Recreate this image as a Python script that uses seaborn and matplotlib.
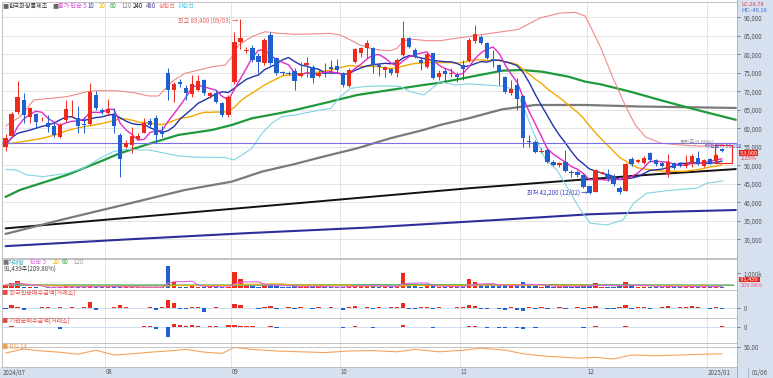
import numpy as np
import pandas as pd
import matplotlib
matplotlib.use("Agg")
import matplotlib.pyplot as plt
import seaborn as sns
from matplotlib.patches import Rectangle

sns.set_theme(style="white")
plt.rcParams['font.family'] = ['Noto Sans CJK KR', 'DejaVu Sans']
plt.rcParams['axes.unicode_minus'] = False

W, H = 773, 378

# ---------------- data ----------------
opens = [55060, 58030, 64500, 67650, 62980, 63870, 62400, 61360, 60640, 57580,
         62260, 64600, 62700, 61200, 61180, 69000, 65000, 64050, 63600, 58210,
         54890, 55500, 57050, 58840, 61900, 62900, 59300, 74840, 70350, 72500,
         70980, 69270, 70300, 73000, 68730, 69630, 66750, 63600, 72600, 83400,
         81000, 81580, 79520, 77540, 85180, 78890, 75290, 75000, 75560, 74210,
         77090, 76640, 74210, 75020, 76460, 76820, 74840, 71420, 77990, 80420,
         81580, 81760, 77000, 75740, 75920, 74840, 79790, 84280, 81130, 78440,
         76460, 80240, 73760, 75560, 74660, 74300, 77090, 78260, 83650, 84550,
         83110, 78710, 77090, 73940, 69630, 71690, 68730, 56500, 56410, 53630,
         54150, 51020, 50120, 51020, 48320, 48320, 47420, 44300, 42860, 47860,
         47770, 46880, 43840, 43120, 51790, 50980, 50720, 53390, 51430, 50710,
         47770, 50720, 50270, 49820, 50270, 52050, 49800, 51600, 51300, 54300]
highs = [58390, 64500, 72780, 69630, 65670, 64230, 63000, 63600, 61800, 61360,
         67650, 67650, 66030, 63150, 72150, 70200, 65500, 68000, 65400, 58660,
         56860, 60280, 58660, 62700, 62800, 63600, 60500, 76190, 72600, 73220,
         71700, 74400, 74400, 73200, 69900, 70350, 67200, 69000, 86080, 89400,
         82000, 82480, 80240, 84280, 86080, 79340, 75500, 75400, 76190, 77990,
         79340, 77090, 75740, 77540, 78440, 78620, 75290, 76190, 81580, 82030,
         83830, 82030, 77500, 76820, 76190, 78890, 89000, 84730, 81580, 79340,
         80240, 80420, 75740, 76190, 76190, 75290, 78440, 84280, 87880, 85180,
         83380, 81130, 77360, 74120, 73040, 73490, 69000, 58210, 56860, 54600,
         54600, 51470, 51020, 54150, 48770, 48770, 47600, 44500, 48930, 48300,
         48930, 47590, 44460, 50720, 52230, 51600, 52500, 53660, 51600, 51000,
         52950, 51000, 50500, 52770, 52950, 53840, 51600, 52000, 53000, 54600]
lows = [53980, 57800, 64000, 61360, 61500, 60000, 62000, 59100, 57760, 57310,
        61800, 63000, 58660, 58840, 60900, 64950, 64000, 63600, 58660, 46970,
        54600, 53270, 56860, 58660, 60000, 56400, 57760, 67650, 67200, 71250,
        67650, 68550, 70000, 69000, 68100, 66750, 63150, 63150, 72000, 81500,
        80200, 77990, 74840, 77090, 77090, 74390, 74500, 74300, 70350, 73940,
        73940, 72140, 73940, 73940, 74840, 75020, 71250, 71250, 77540, 79340,
        78890, 74840, 74000, 73940, 74390, 73940, 79520, 81580, 78890, 75740,
        76190, 73220, 73040, 72600, 73940, 72600, 73040, 77990, 83110, 82750,
        78620, 76640, 71690, 69630, 69000, 64950, 55060, 55060, 53450, 53260,
        50750, 49850, 49670, 48320, 46970, 46970, 43800, 42200, 42680, 47600,
        45800, 44460, 42300, 42950, 49820, 50720, 50270, 50980, 49820, 49500,
        46880, 48930, 49500, 49200, 49550, 50000, 49500, 50400, 51000, 53600]
closes = [57310, 63870, 68370, 63600, 65400, 61800, 62600, 60460, 58210, 60910,
          65130, 64800, 60640, 60900, 69900, 65400, 64500, 65130, 60640, 51650,
          55970, 58030, 57940, 61540, 61000, 58200, 58500, 70350, 71960, 71870,
          69630, 71870, 72870, 69630, 69630, 67200, 63600, 68550, 83380, 84300,
          81200, 78440, 77990, 83830, 77540, 74840, 74840, 74660, 72860, 75020,
          77540, 73490, 74840, 74660, 76010, 75740, 71690, 75740, 81310, 81760,
          82930, 77090, 76500, 76640, 75020, 78440, 84280, 82030, 79340, 77540,
          79970, 73490, 74840, 74660, 75020, 73800, 75920, 83830, 85450, 83110,
          78890, 78260, 75290, 69900, 70530, 67830, 57310, 56400, 53720, 53900,
          51020, 50120, 50750, 48590, 47870, 47420, 44200, 42500, 48660, 48120,
          46700, 44910, 42680, 50270, 50270, 51430, 52050, 51340, 50270, 49820,
          50900, 49380, 49820, 50270, 52500, 50270, 51340, 50700, 52700, 53900]

# moving-average values for the first days (before a full window exists)
ma5_head = [55780, 57300, 60500, 62500]
ma10_head = [55510, 57500, 58660, 59100, 59500, 60000, 60500, 60900, 61400]
ma20_head = [55780, 56000, 56200, 56450, 56700, 57000, 57300, 57700, 58100, 58600,
             59300, 59700, 60100, 60400, 60700, 61000, 61300, 61700, 62100]

# volume (thousand shares)
volume = [200, 330, 510, 110, 80, 80, 50, 60, 80, 110,
          150, 60, 80, 60, 200, 110, 80, 60, 110, 150,
          80, 60, 60, 60, 80, 80, 60, 1510, 450, 110,
          110, 220, 110, 110, 80, 80, 110, 110, 1070, 620,
          220, 150, 110, 260, 300, 150, 80, 70, 150, 120,
          160, 110, 80, 90, 90, 80, 120, 150, 250, 150,
          160, 200, 90, 80, 80, 150, 1050, 300, 150, 110,
          160, 200, 100, 90, 80, 80, 150, 600, 400, 200,
          200, 150, 160, 250, 150, 280, 450, 200, 180, 100,
          150, 110, 80, 200, 110, 100, 200, 180, 350, 120,
          110, 120, 150, 420, 200, 100, 120, 110, 90, 80,
          200, 90, 70, 100, 150, 120, 100, 80, 110, 91]
vol_ma60_x = [0, 30, 60, 90, 121]
vol_ma60_y = [230, 220, 240, 250, 200]
vol_ma120_x = [0, 60, 121]
vol_ma120_y = [190, 200, 220]

foreign = [-1.5, 2.5, 1.2, -2.0, -0.6, -0.6, 0.5, 1.0, -0.6, 0.8,
           -0.6, 0.5, -0.5, 0.6, 6.0, -2.5, -0.6, -0.6, 0.5, 2.8,
           0.8, -0.6, -0.6, -0.6, 0.5, -2.5, 0.8, 8.0, 5.0, -0.8,
           -0.8, 1.0, 0.8, -4.0, -0.6, 0.8, -0.6, -0.6, 3.3, 2.5,
           -0.6, -0.6, -1.0, 0.8, 1.5, -1.0, -0.6, 0.5, -0.8, 0.6,
           -0.6, -1.2, 0.5, -0.6, 1.0, -0.6, -2.5, 0.8, 1.5, -0.6,
           0.8, -1.5, 0.5, -0.6, 0.5, 0.8, 5.0, -1.0, -0.8, 0.6,
           0.8, -1.5, 0.5, -0.6, -0.6, 0.5, 0.8, 3.0, 2.0, -1.0,
           -1.5, -0.6, -1.0, -2.0, 0.8, -2.5, -3.0, 0.8, -1.0, 0.6,
           -1.0, -0.6, 0.5, -1.0, -0.6, 0.6, -1.5, 1.0, 2.0, -0.6,
           -0.8, -1.0, 0.8, 2.5, -0.8, 0.5, 0.8, -0.8, -0.6, 0.5,
           1.5, -0.6, 0.5, 1.0, 1.5, 0.6, -0.6, -1.5, 0.6, -0.8]

institution = [-0.3, 1.5, 0.5, -0.3, -0.3, -0.3, 0.3, -0.3, -0.3, -1.5,
               -0.3, 0.3, -0.3, -0.3, 0.3, -0.3, 0.3, -0.3, -0.3, 0.3,
               -0.3, 0.3, 0.3, 1.5, 1.0, -1.5, -0.3, -10.0, 3.0, 2.0,
               1.5, 2.0, 1.5, -0.3, 1.5, 1.5, 0.3, 2.0, 2.5, 1.5,
               1.5, 1.5, -0.3, 0.3, 1.5, -0.5, 0.3, -0.3, -0.3, 0.3,
               -0.3, 0.3, -0.3, 0.3, 0.3, -0.3, -0.5, 0.3, 1.0, 0.5,
               0.3, -0.5, 0.3, 0.3, -0.3, 0.3, 2.0, 0.3, -0.3, 0.3,
               0.3, -0.5, 0.3, -0.3, 0.3, 0.3, 0.3, 1.5, 1.0, -0.3,
               -0.5, -0.3, -0.5, -1.0, 0.3, -1.0, -1.5, 0.3, -0.5, 0.3,
               -0.3, -0.3, 0.3, -0.3, -0.3, 0.3, -0.5, 0.3, 1.0, -0.3,
               -0.3, -0.3, 0.3, 1.0, -0.3, 0.3, 0.3, -0.3, -0.3, 0.3,
               0.5, -0.3, 0.3, 0.3, 0.5, 0.3, -0.3, -0.3, 0.3, 1.5]

ma60_x = [0, 2.4, 10.2, 15.7, 19, 23.5, 28.7, 34.3, 37.6, 40.9, 45.4, 48.1, 52.8,
          58.4, 63.9, 69.4, 72.2, 76.9, 82.5, 85.8, 89.1, 93.5, 96.3, 98.8, 104,
          109, 115, 121.3]
ma60_y = [41500, 43370, 47420, 51020, 53270, 55650, 58210, 59560, 60910, 62700,
          64050, 64950, 66750, 69000, 70350, 71690, 72320, 73800, 75560, 75740,
          75290, 73940, 72590, 71900, 69800, 67500, 64900, 62300]
ma120_x = [0, 10, 20, 29.8, 37.6, 42.6, 48.1, 52.8, 58.4, 63.9, 69.4, 72.2, 76.9,
           82.5, 88, 96.3, 105, 113, 121.3]
ma120_y = [31500, 35600, 39500, 43370, 45620, 48320, 50390, 52370, 54610, 57310,
           59560, 60910, 62700, 65130, 66300, 66300, 65900, 65700, 65500]
ma240_x = [0, 25, 50, 77, 97, 108, 121.3]
ma240_y = [33000, 36500, 40000, 43830, 46300, 47600, 49000]
ma480_x = [0, 20, 40, 60, 82, 97, 108, 121.3]
ma480_y = [28200, 30000, 31700, 33200, 35300, 36800, 37400, 37950]
up_x = [0, 2.4, 4.7, 7.4, 10.2, 13.5, 15.2, 18.5, 21.3, 23.8, 25.4, 27.6, 29.8,
        32.1, 34.3, 36.5, 37.6, 38.7, 40.9, 43.1, 45.4, 48.1, 50.6, 53.9, 55.6,
        57.3, 58.9, 60.6, 62.2, 63.9, 65.0, 66.1, 67.8, 70.0, 72.2, 74.7, 76.9,
        79.7, 82.5, 85.2, 88.8, 92.1, 94.6, 96.3, 98.8, 100.9, 102.9, 104.6,
        106.3, 108.8, 112.1, 115.4, 119.2]
up_y = [60640, 63150, 67650, 68100, 68540, 69890, 70160, 70160, 69620, 68730,
        68730, 72590, 74840, 75740, 76640, 77090, 79340, 82480, 84730, 86080,
        85630, 85360, 85450, 85630, 85180, 83830, 82480, 81580, 81130, 80950,
        81580, 83650, 84010, 83650, 83650, 84280, 84730, 85450, 86080, 86710,
        89800, 91100, 91300, 90300, 82000, 73600, 66300, 60900, 57700, 56000,
        55500, 55200, 55500]
lo_x = [0, 1.9, 3.5, 6.3, 10.2, 12.9, 15.7, 17.9, 20.2, 22.4, 23.8, 26.5, 28.7,
        31.5, 34.3, 36.5, 37.9, 39.3, 40.9, 42.6, 44.2, 45.9, 48.1, 49.5, 51.7,
        54.0, 55.6, 57.3, 59.5, 61.7, 63.9, 65.6, 67.2, 69.5, 72.2, 74.7, 77.0,
        79.7, 82.5, 84.7, 85.8, 87.5, 89.7, 91.6, 95.5, 97.1, 99.9, 102.6, 104.3,
        106.5, 109.9, 114.8, 116.5, 119.2]
lo_y = [48950, 48700, 47420, 46970, 47870, 49220, 51920, 53720, 54350, 54160,
        54160, 53270, 52550, 52190, 52190, 52100, 51470, 52820, 54610, 58660,
        61360, 63150, 63600, 64050, 64770, 65400, 68550, 70800, 71250, 71420,
        71420, 71250, 69900, 69000, 72590, 71690, 72000, 71690, 71420, 70350,
        66750, 59560, 51470, 48770, 37980, 34380, 33930, 35280, 39770, 42470,
        43190, 43830, 45180, 45800]
rsi_x = [0, 3, 6, 9, 12, 15, 18, 21, 24, 27, 30, 33, 36, 38, 41, 45, 49, 53,
         57, 61, 65, 68, 72, 76, 79, 83, 86, 89, 92, 95, 98, 101, 104, 108,
         112, 116, 119]
rsi_y = [35, 45, 40, 37, 32, 42, 30, 33, 37, 40, 44, 37, 34, 49, 44, 40, 38, 36,
         40, 41, 38, 44, 38, 42, 47, 42, 33, 28, 25, 22, 24, 20, 30, 28, 30,
         32, 33]

month_first = [17, 38, 56, 76, 97, 117]
month_labels = ["08", "09", "10", "11", "12", "2025/01"]

# ---------------- helpers ----------------
n = len(closes)
idx = np.arange(n)
df = pd.DataFrame({"i": idx, "o": opens, "h": highs, "l": lows, "c": closes, "v": volume,
                   "f": foreign, "inst": institution})
df["ma5"] = df["c"].rolling(5).mean()
df["ma10"] = df["c"].rolling(10).mean()
df["ma20"] = df["c"].rolling(20).mean()
df.loc[:len(ma5_head) - 1, "ma5"] = ma5_head
df.loc[:len(ma10_head) - 1, "ma10"] = ma10_head
df.loc[:len(ma20_head) - 1, "ma20"] = ma20_head
df["vma5"] = df["v"].rolling(5, min_periods=1).mean()
df["vma20"] = df["v"].rolling(20, min_periods=1).mean()
up = df["c"] >= df["o"]

RED = "#ee2a1c"
BLUE = "#1f5fd0"
GRID = "#e4e4e4"
STRIP = "#d6e0ef"

def rect(x0, y0, x1, y1):
    return [x0 / W, 1 - y1 / H, (x1 - x0) / W, (y1 - y0) / H]

def ylim_for(py_top, py_bot, v_a, py_a, v_b, py_b):
    s = (v_a - v_b) / (py_b - py_a)
    return v_b - (py_bot - py_b) * s, v_a + (py_a - py_top) * s

fig = plt.figure(figsize=(W / 100, H / 100), dpi=100)
fig.patch.set_facecolor("white")

# background axes for strips (drawn first)
bg = fig.add_axes([0, 0, 1, 1])
bg.set_zorder(-5)
bg.set_xlim(0, W); bg.set_ylim(H, 0); bg.axis("off")
bg.add_patch(Rectangle((737, 0), 36, H, facecolor=STRIP, edgecolor="none"))
bg.add_patch(Rectangle((0, 367), W, 11, facecolor=STRIP, edgecolor="none"))
bg.plot([737, 737], [0, 378], color="#9aa8c0", lw=0.6)
bg.plot([748, 748], [367, 378], color="#9aa8c0", lw=0.5)

XL = (-0.6, 121.5)
FS = 4.4

def base_axes(r):
    ax = fig.add_axes(r)
    ax.set_xlim(*XL)
    ax.set_facecolor("white")
    for s in ax.spines.values():
        s.set_color("#b8b8b8")
        s.set_linewidth(0.6)
    ax.set_xticks([m - 0.5 for m in month_first])
    ax.xaxis.grid(True, color=GRID, lw=0.7)
    ax.tick_params(axis="x", length=0, labelbottom=False)
    ax.yaxis.tick_right()
    ax.tick_params(axis="y", labelsize=FS, colors="#555555", length=2, pad=3,
                   width=0.5, direction="out")
    return ax

# ---------------- main price panel ----------------
ax = base_axes(rect(2, 2, 737, 258))
ax.set_ylim(*ylim_for(2, 258, 85000, 35.7, 45000, 183.9))
ax.set_yticks(np.arange(30000, 90001, 5000))
ax.set_yticklabels([f"{v:,}" for v in range(30000, 90001, 5000)])
ax.yaxis.grid(True, color=GRID, lw=0.7)
ax.set_axisbelow(True)

sns.lineplot(x=ma480_x, y=ma480_y, ax=ax, color="#2e2e9a", lw=1.5, estimator=None)
sns.lineplot(x=ma240_x, y=ma240_y, ax=ax, color="#111111", lw=1.4, estimator=None)
sns.lineplot(x=ma120_x, y=ma120_y, ax=ax, color="#7a7a7a", lw=1.6, estimator=None)
sns.lineplot(x=ma60_x, y=ma60_y, ax=ax, color="#1e9a3a", lw=1.6, estimator=None)
sns.lineplot(x=up_x, y=up_y, ax=ax, color="#f08a8a", lw=0.8, estimator=None)
sns.lineplot(x=lo_x, y=lo_y, ax=ax, color="#7fd4e2", lw=0.8, estimator=None)
sns.lineplot(data=df, x="i", y="ma20", ax=ax, color="#f4a900", lw=1.0, estimator=None)
sns.lineplot(data=df, x="i", y="ma10", ax=ax, color="#2233aa", lw=1.0, estimator=None)
sns.lineplot(data=df, x="i", y="ma5", ax=ax, color="#e02cc8", lw=1.0, estimator=None)

cols = [RED if u else BLUE for u in up]
ax.vlines(df["i"], df["l"], df["h"], colors=cols, lw=0.7, zorder=4)
body_lo = np.minimum(df["o"], df["c"])
body_h = np.maximum(np.abs(df["c"] - df["o"]), 180)
ax.bar(df["i"], body_h, bottom=body_lo, width=0.72, color=cols, zorder=5, lw=0)
ax.axhline(56000, color="#7a6ee8", lw=0.8, zorder=3)
ax.add_patch(Rectangle((117.9, 50600), 2.8, 4850, fill=False, edgecolor=RED, lw=0.9, zorder=6))
ax.set_xlabel("")
ax.set_ylabel("")

# annotations
fig.text(178 / W, 1 - 21 / H, "최고 89,400 (09/03) →", color="#e85a5a", fontsize=FS, va="center")
fig.text(527 / W, 1 - 193 / H, "최저 42,200 (12/02) →", color="#3a3ad0", fontsize=FS, va="center")
fig.text(680 / W, 1 - 141.5 / H, "등단주(0.00%)", color="#888888", fontsize=FS - 0.4, va="center")
fig.text(705 / W, 1 - 146 / H, "매입단가 56,000", color="#5a5ae0", fontsize=FS - 0.6, va="center")

# title row
bg.add_patch(Rectangle((8, 2), 43, 8, facecolor="#dcdcdc", edgecolor="none", zorder=1))
bg.add_patch(Rectangle((5, 11), 6, 6, facecolor="#c0c0c0", edgecolor="#909090", lw=0.4, zorder=1))
items = [(2, "■", "#666666"), (9, "한국화장품제조", "#333333"), (52, "■", "#666666"),
         (58, "종가 단순 5", "#e040d8"), (88, "10", "#3040c0"), (99, "20", "#f0b000"),
         (110, "60", "#2aa040"), (121, "120", "#888888"), (133, "240", "#111111"),
         (146, "480", "#404090"), (159, "상한선", "#f07070"), (178, "하한선", "#50c8e0")]
for x, t, c in items:
    fig.text(x / W, 1 - 6 / H, t, color=c, fontsize=FS, va="center")
fig.text(741 / W, 1 - 4.2 / H, "LC:26.78", color="#e84040", fontsize=FS - 0.3, va="center")
fig.text(741 / W, 1 - 10.5 / H, "HC:-40.16", color="#3a6ad8", fontsize=FS - 0.3, va="center")
fig.text(739 / W, 1 - 153 / H, " 53,900 ", color="white", fontsize=FS - 0.4, va="center",
         bbox=dict(boxstyle="square,pad=0.02", fc="#e8241c", ec="none"))
fig.text(741 / W, 1 - 158.8 / H, "2.25%", color="#e84040", fontsize=FS - 0.4, va="center")

# ---------------- volume panel ----------------
axv = base_axes(rect(2, 259, 737, 290))
axv.set_ylim(*ylim_for(259, 290, 1000, 273.3, 0, 288.3))
axv.bar(df["i"], df["v"], width=0.72, color=cols, lw=0)
sns.lineplot(x=vol_ma120_x, y=vol_ma120_y, ax=axv, color="#aaaaaa", lw=0.8, estimator=None)
sns.lineplot(x=vol_ma60_x, y=vol_ma60_y, ax=axv, color="#50b060", lw=0.8, estimator=None)
sns.lineplot(data=df, x="i", y="vma20", ax=axv, color="#f0b000", lw=0.8, estimator=None)
sns.lineplot(data=df, x="i", y="vma5", ax=axv, color="#e060e0", lw=0.8, estimator=None)
axv.set_yticks([1000])
axv.set_yticklabels(["1,000k"])
axv.set_xlabel(""); axv.set_ylabel("")
vitems = [(2, "■", "#777777"), (8, "거래량", "#40b0c8"), (30, "단순 5", "#e060e0"),
          (53, "20", "#f0b000"), (62, "60", "#30a040"), (73, "120", "#999999")]
for x, t, c in vitems:
    fig.text(x / W, 1 - 262.5 / H, t, color=c, fontsize=FS, va="center")
fig.text(4 / W, 1 - 269.5 / H, "91,439주(209.88%)", color="#444444", fontsize=FS, va="center")
fig.text(739 / W, 1 - 279.5 / H, " 91,439  ", color="white", fontsize=FS - 0.3, va="center",
         bbox=dict(boxstyle="square,pad=0.05", fc="#e8241c", ec="none"))
fig.text(741 / W, 1 - 285.5 / H, "209.88%", color="#f06080", fontsize=FS - 0.3, va="center")

# ---------------- foreign panel ----------------
axf = base_axes(rect(2, 290, 737, 318))
axf.set_ylim(*ylim_for(290, 318, 10, 297.7, 0, 307.7))
axf.bar(df["i"], df["f"], width=0.72, color=[RED if v > 0 else BLUE for v in foreign], lw=0)
axf.axhline(0, color="#c8d8f0", lw=0.6, zorder=0)
axf.set_yticks([0]); axf.set_yticklabels(["0"])
fig.text(2 / W, 1 - 294 / H, "■ 외국인순매수금액(거래소)", color="#e84848", fontsize=FS, va="center")

# ---------------- institution panel ----------------
axi = base_axes(rect(2, 318, 737, 343))
axi.set_ylim(*ylim_for(318, 343, 10, 317, 0, 327))
axi.bar(df["i"], df["inst"], width=0.72, color=[RED if v > 0 else BLUE for v in institution], lw=0)
axi.axhline(0, color="#c8d8f0", lw=0.6, zorder=0)
axi.set_yticks([0]); axi.set_yticklabels(["0"])
fig.text(2 / W, 1 - 322 / H, "■ 기관순매수금액(거래소)", color="#e84848", fontsize=FS, va="center")

# ---------------- RSI panel ----------------
axr = base_axes(rect(2, 343, 737, 367))
axr.set_ylim(0, 60)
sns.lineplot(x=rsi_x, y=rsi_y, ax=axr, color="#f5a25a", lw=0.8, estimator=None)
axr.axhline(50, color="#bbbbbb", lw=0.6)
axr.set_yticks([50]); axr.set_yticklabels(["50.00"])
fig.text(2 / W, 1 - 347 / H, "■ RSI 14", color="#f0a050", fontsize=FS, va="center")

# ---------------- x labels ----------------
xpix = lambda i: 5.3 + i * 6.02
fig.text(3 / W, 1 - 372.5 / H, "2024/07", color="#555555", fontsize=FS, va="center")
for m, lab in zip(month_first, month_labels):
    fig.text((xpix(m - 0.5) + 1) / W, 1 - 372.5 / H, lab, color="#555555", fontsize=FS, va="center")
fig.text(752 / W, 1 - 372.5 / H, "01/06", color="#555555", fontsize=FS, va="center")

fig.savefig("out.png", dpi=100)
